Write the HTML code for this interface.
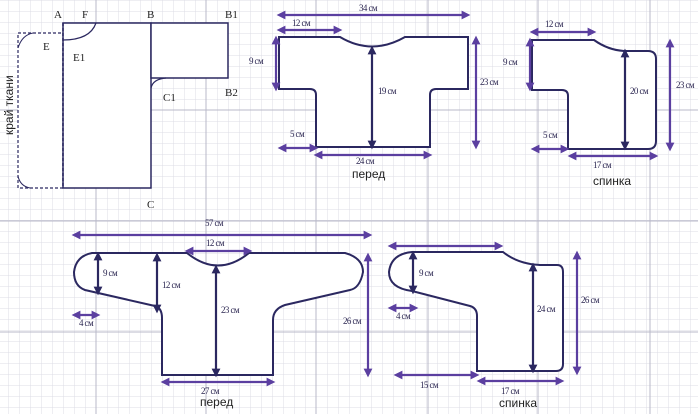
<!DOCTYPE html>
<html><head><meta charset="utf-8"><style>
html,body{margin:0;padding:0;background:#fff;}
svg{display:block;}
text{font-family:"Liberation Serif",serif;}
.l{font-size:9px;fill:#2a2550;letter-spacing:-0.6px;}
.t{font-family:"Liberation Sans",sans-serif;font-size:12px;fill:#222;}
.k{font-size:11px;fill:#222;}
.o{fill:#fff;stroke:#2b2860;stroke-width:2;}
.a{stroke:#5b3fa0;stroke-width:2.2;fill:none;marker-start:url(#m);marker-end:url(#m);}
.b{stroke:#2b2860;stroke-width:2.2;fill:none;marker-start:url(#m2);marker-end:url(#m2);}
</style></head><body>
<svg width="698" height="414" viewBox="0 0 698 414" xmlns="http://www.w3.org/2000/svg">
<defs>
<pattern id="g" x="8" y="0" width="11" height="11" patternUnits="userSpaceOnUse">
<path d="M0 0V11M0 0H11" stroke="#dcdce6" stroke-width="1"/>
</pattern>
<marker id="m" viewBox="0 0 10 10" refX="5" refY="5" markerWidth="4" markerHeight="4" orient="auto-start-reverse"><path d="M0 0L10 5L0 10z" fill="#5b3fa0"/></marker>
<marker id="m2" viewBox="0 0 10 10" refX="5" refY="5" markerWidth="4" markerHeight="4" orient="auto-start-reverse"><path d="M0 0L10 5L0 10z" fill="#2b2860"/></marker>
</defs>
<rect width="698" height="414" fill="url(#g)"/>
<g stroke="#b8b8c8" stroke-width="1">
<path d="M96 0V414M206 0V414M316 0V414M428 0V414M538 0V414M650 0V414M0 110H698M0 221H698M0 332H698"/>
</g>
<!-- top-left pattern -->
<rect x="18" y="33" width="45" height="155" fill="#fff" stroke="#2b2860" stroke-width="1.2" stroke-dasharray="3,2"/>
<path d="M18 48Q22 35 33 33" fill="none" stroke="#2b2860" stroke-width="1"/>
<path d="M18 176Q20 186 30 188" fill="none" stroke="#2b2860" stroke-width="1"/>
<rect x="63" y="23" width="88" height="165" fill="#fff" stroke="#2b2860" stroke-width="1.5"/>
<line x1="63" y1="23" x2="63" y2="188" stroke="#2b2860" stroke-width="1.5" stroke-dasharray="3,2"/>
<rect x="151" y="23" width="77" height="55" fill="#fff" stroke="#2b2860" stroke-width="1.5"/>
<path d="M63 40Q90 40 96 23" fill="none" stroke="#2b2860" stroke-width="1.2"/>
<path d="M151 88Q153 79 166 78" fill="none" stroke="#2b2860" stroke-width="1.2"/>
<text class="k" x="54" y="18">A</text><text class="k" x="82" y="18">F</text>
<text class="k" x="147" y="18">B</text><text class="k" x="225" y="18">B1</text>
<text class="k" x="43" y="50">E</text><text class="k" x="73" y="61">E1</text>
<text class="k" x="163" y="101">C1</text><text class="k" x="225" y="96">B2</text>
<text class="k" x="147" y="208">C</text>
<text class="t" transform="translate(13,135) rotate(-90)">край ткани</text>
<!-- top перед -->
<path class="o" d="M279 37H340Q372 56 405 37H468V89H436Q430 89 430 95V147H316V95Q316 89 310 89H279Z"/>
<line class="a" x1="281" y1="15" x2="466" y2="15"/><text class="l" x="359" y="11">34 см</text>
<line class="a" x1="281" y1="30" x2="338" y2="30"/><text class="l" x="292" y="26">12 см</text>
<line class="a" x1="276" y1="40" x2="276" y2="87"/><text class="l" x="249" y="64">9 см</text>
<line class="b" x1="372" y1="50" x2="372" y2="145"/><text class="l" x="378" y="94">19 см</text>
<line class="a" x1="476" y1="40" x2="476" y2="145"/><text class="l" x="480" y="85">23 см</text>
<line class="a" x1="282" y1="148" x2="314" y2="148"/><text class="l" x="290" y="137">5 см</text>
<line class="a" x1="318" y1="155" x2="428" y2="155"/><text class="l" x="356" y="164">24 см</text>
<text class="t" x="352" y="178">перед</text>
<!-- top спинка -->
<path class="o" d="M532 40H594Q608 50 624 51H648Q656 51 656 59V141Q656 149 648 149H568V96Q568 90 562 90H532Z"/>
<line class="a" x1="534" y1="32" x2="592" y2="32"/><text class="l" x="545" y="27">12 см</text>
<line class="a" x1="530" y1="42" x2="530" y2="87"/><text class="l" x="503" y="65">9 см</text>
<line class="b" x1="625" y1="53" x2="625" y2="146"/><text class="l" x="630" y="94">20 см</text>
<line class="a" x1="670" y1="43" x2="670" y2="147"/><text class="l" x="676" y="88">23 см</text>
<line class="a" x1="535" y1="149" x2="565" y2="149"/><text class="l" x="543" y="138">5 см</text>
<line class="a" x1="572" y1="156" x2="654" y2="156"/><text class="l" x="593" y="168">17 см</text>
<text class="t" x="593" y="185">спинка</text>
<!-- bottom перед -->
<path class="o" d="M92 253H187Q218 278 249 253H345Q363 258 363 272Q360 288 350 290L285 305Q273 309 273 320V375H162V318Q162 308 155 306L85 290Q74 286 74 272Q76 256 92 253Z"/>
<line class="a" x1="76" y1="235" x2="368" y2="235"/><text class="l" x="205" y="226">57 см</text>
<line class="a" x1="189" y1="251" x2="248" y2="251"/><text class="l" x="206" y="246">12 см</text>
<line class="b" x1="98" y1="256" x2="98" y2="291"/><text class="l" x="103" y="276">9 см</text>
<line class="b" x1="157" y1="257" x2="157" y2="309"/><text class="l" x="162" y="288">12 см</text>
<line class="b" x1="216" y1="269" x2="216" y2="373"/><text class="l" x="221" y="313">23 см</text>
<line class="a" x1="368" y1="257" x2="368" y2="373"/><text class="l" x="343" y="324">26 см</text>
<line class="a" x1="76" y1="315" x2="96" y2="315"/><text class="l" x="79" y="326">4 см</text>
<line class="a" x1="165" y1="382" x2="271" y2="382"/><text class="l" x="201" y="394">27 см</text>
<text class="t" x="200" y="406">перед</text>
<!-- bottom спинка -->
<path class="o" d="M412 252H503Q518 264 540 265H557Q563 265 563 272V364Q563 371 556 371H477V316Q477 308 470 306L412 291Q389 288 389 272Q391 254 412 252Z"/>
<line class="a" x1="392" y1="246" x2="499" y2="246"/>
<line class="b" x1="413" y1="255" x2="413" y2="290"/><text class="l" x="419" y="276">9 см</text>
<line class="a" x1="392" y1="308" x2="414" y2="308"/><text class="l" x="396" y="319">4 см</text>
<line class="a" x1="398" y1="375" x2="475" y2="375"/><text class="l" x="420" y="388">15 см</text>
<line class="a" x1="481" y1="381" x2="560" y2="381"/><text class="l" x="501" y="394">17 см</text>
<line class="b" x1="533" y1="267" x2="533" y2="369"/><text class="l" x="537" y="312">24 см</text>
<line class="a" x1="577" y1="255" x2="577" y2="371"/><text class="l" x="581" y="303">26 см</text>
<text class="t" x="499" y="407">спинка</text>
</svg>
</body></html>
